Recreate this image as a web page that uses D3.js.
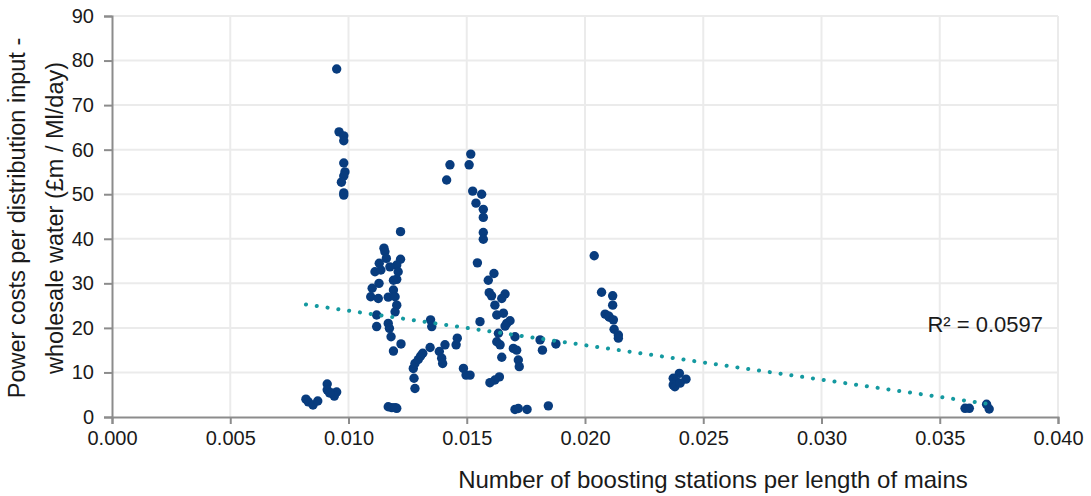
<!DOCTYPE html>
<html>
<head>
<meta charset="utf-8">
<script src="https://cdn.jsdelivr.net/npm/d3@7"></script>
<style>
  body { margin: 0; background: #fff; }
  text { font-family: "Liberation Sans", Arial, sans-serif; fill: #1a1a1a; }
</style>
</head>
<body>
<svg id="chart"></svg>
<script>
// boosting stations per length of mains (x) and power costs (y)
const stations = [
  0.0083, 0.0085, 0.0087, 0.0082,
  0.0091, 0.0091, 0.0093, 0.0095, 0.0094, 0.0092,
  0.0095, 0.0096, 0.0098, 0.0098, 0.0098, 0.00985, 0.0098, 0.0097, 0.0098, 0.0098,
  0.0122, 0.0115, 0.01154, 0.0116, 0.0122, 0.0113, 0.01204, 0.01112, 0.01137, 0.01175,
  0.0121, 0.01204, 0.0119, 0.01129, 0.0110, 0.0119, 0.01094, 0.01126, 0.01168, 0.01197,
  0.01204, 0.01197, 0.01119, 0.01119, 0.01168, 0.01173, 0.0118, 0.01222, 0.0119,
  0.01168, 0.01183, 0.01204, 0.01197,
  0.01281, 0.01277, 0.01274, 0.01281, 0.01295, 0.01305, 0.01314, 0.01345, 0.01347, 0.01352,
  0.01384, 0.01394, 0.01398, 0.01408, 0.01455, 0.0146, 0.01486, 0.01497, 0.01556,
  0.01517, 0.01429, 0.0151, 0.01415, 0.01525, 0.01563, 0.01539, 0.0157, 0.0157, 0.0157,
  0.0157, 0.01545, 0.01615, 0.01591,
  0.01595, 0.01605, 0.01662, 0.01648, 0.01619, 0.01627, 0.01655, 0.01669, 0.01683, 0.01662,
  0.01634, 0.01704, 0.01627, 0.01641, 0.01697, 0.01711, 0.01648, 0.01718, 0.01722, 0.0181,
  0.0182, 0.01877, 0.01638, 0.01619, 0.01598, 0.01704, 0.01718, 0.01755, 0.01845, 0.01514,
  0.02039, 0.0207, 0.02117, 0.02117, 0.02085, 0.02099, 0.02103, 0.0212, 0.02123, 0.02141, 0.02141,
  0.02399, 0.02373, 0.02427, 0.02387, 0.02373, 0.0238, 0.02402,
  0.03607, 0.03625, 0.03698, 0.03709
];
const powerCosts = [
  3.4, 2.7, 3.6, 4.0,
  7.4, 6.1, 5.4, 5.6, 4.7, 5.4,
  78.1, 64.0, 63.1, 62.0, 57.0, 55.0, 54.1, 52.7, 50.3, 49.8,
  41.6, 37.9, 37.1, 35.6, 35.4, 34.5, 34.1, 32.6, 33.0, 33.7,
  32.6, 30.9, 30.7, 30.0, 28.9, 28.5, 27.0, 26.6, 26.9, 27.0,
  25.1, 23.6, 22.9, 20.3, 21.0, 19.9, 18.0, 16.4, 14.8,
  2.3, 2.1, 1.95, 2.1,
  6.4, 8.7, 10.9, 12.0, 12.9, 13.7, 14.3, 15.6, 21.8, 20.3,
  14.7, 13.2, 12.0, 16.2, 16.2, 17.7, 10.9, 9.4, 21.4,
  59.0, 56.6, 56.6, 53.2, 50.7, 50.0, 48.0, 46.6, 44.8, 41.4,
  39.9, 34.6, 32.2, 30.7,
  27.9, 27.2, 27.6, 26.6, 25.1, 22.9, 23.3, 21.0, 21.6, 20.4,
  18.8, 18.0, 16.9, 16.2, 15.4, 15.0, 13.4, 12.8, 11.3, 17.3,
  15.0, 16.4, 9.0, 8.3, 7.7, 1.7, 1.9, 1.7, 2.5, 9.4,
  36.2, 28.0, 27.2, 25.1, 23.1, 22.7, 22.4, 21.8, 19.7, 18.4, 17.7,
  9.8, 8.7, 8.5, 7.9, 7.2, 6.8, 7.6,
  1.95, 1.95, 2.85, 1.8
];
const xTicks = [0, 0.005, 0.010, 0.015, 0.020, 0.025, 0.030, 0.035, 0.040];
const yTicks = [0, 10, 20, 30, 40, 50, 60, 70, 80, 90];
// linear trend line as shown (Excel)
const trendSlope = -774;
const trendIntercept = 31.6;
const rSquaredLabel = "R² = 0.0597";

const width = 1091, height = 496;
const margin = {top: 16, right: 33, bottom: 79, left: 112};

const svg = d3.select("#chart").attr("width", width).attr("height", height);

const x = d3.scaleLinear().domain([0, 0.04]).range([margin.left, width - margin.right]);
const y = d3.scaleLinear().domain([0, 90]).range([height - margin.bottom, margin.top]);

const points = stations.map((s, i) => ({x: s, y: powerCosts[i]}));

// gridlines
svg.append("g")
  .selectAll("line.vgrid")
  .data(xTicks.slice(1))
  .join("line")
  .attr("x1", d => x(d)).attr("x2", d => x(d))
  .attr("y1", y(0)).attr("y2", y(90))
  .attr("stroke", "#ebebeb").attr("stroke-width", 2);

svg.append("g")
  .selectAll("line.hgrid")
  .data(yTicks.slice(1))
  .join("line")
  .attr("x1", x(0)).attr("x2", x(0.04))
  .attr("y1", d => y(d)).attr("y2", d => y(d))
  .attr("stroke", "#ebebeb").attr("stroke-width", 2);

// axes
const xAxis = svg.append("g")
  .attr("transform", "translate(0," + y(0) + ")")
  .call(d3.axisBottom(x).tickValues(xTicks).tickFormat(d3.format(".3f")).tickSize(7).tickPadding(7));
const yAxis = svg.append("g")
  .attr("transform", "translate(" + x(0) + ",0)")
  .call(d3.axisLeft(y).tickValues(yTicks).tickSize(8).tickPadding(10));

[xAxis, yAxis].forEach(a => {
  a.select(".domain").attr("stroke", "#8c8c8c").attr("stroke-width", 2);
  a.selectAll(".tick line").attr("stroke", "#8c8c8c").attr("stroke-width", 2);
  a.selectAll(".tick text").attr("font-size", 20).attr("fill", "#1a1a1a")
    .style("font-family", "'Liberation Sans', Arial, sans-serif");
});

// points
svg.append("g")
  .selectAll("circle")
  .data(points)
  .join("circle")
  .attr("cx", d => x(d.x))
  .attr("cy", d => y(d.y))
  .attr("r", 4.7)
  .attr("fill", "#083c7e");

// trend line
const xExt = d3.extent(stations);
svg.append("line")
  .attr("x1", x(xExt[0])).attr("y1", y(trendSlope * xExt[0] + trendIntercept))
  .attr("x2", x(xExt[1])).attr("y2", y(trendSlope * xExt[1] + trendIntercept))
  .attr("stroke", "#1499a0")
  .attr("stroke-width", 4)
  .attr("stroke-linecap", "round")
  .attr("stroke-dasharray", "0.1 10.8");

svg.append("text")
  .attr("x", 1043).attr("y", 332)
  .attr("text-anchor", "end")
  .attr("font-size", 22)
  .text(rSquaredLabel);

// axis titles
svg.append("text")
  .attr("x", 713).attr("y", 488)
  .attr("text-anchor", "middle")
  .attr("font-size", 24)
  .text("Number of boosting stations per length of mains");

const yTitle = svg.append("text")
  .attr("transform", "translate(0,218) rotate(-90)")
  .attr("text-anchor", "middle")
  .attr("font-size", 23.5);
yTitle.append("tspan").attr("x", 0).attr("y", 25).text("Power costs per distribution input -");
yTitle.append("tspan").attr("x", 0).attr("y", 63).text("wholesale water (£m / Ml/day)");
</script>
</body>
</html>
